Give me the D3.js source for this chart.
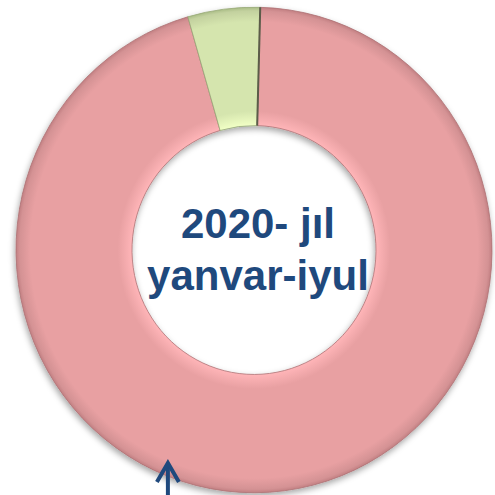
<!DOCTYPE html>
<html>
<head>
<meta charset="utf-8">
<script src="https://cdn.jsdelivr.net/npm/d3@7"></script>
<style>
  html, body { margin: 0; padding: 0; background: #fff; }
  svg { display: block; }
</style>
</head>
<body>
<svg id="chart"></svg>
<script>
// slices, in drawing order (clockwise from just right of 12 o'clock)
const categories = ['A', 'B'];
const values = [95.1, 4.9];
const sliceColors = ['#E8A0A2', '#D5E5AE'];
const rimColors = ['#C27F82', '#A9BC85'];
const titleLines = ['2020- jıl', 'yanvar-iyul'];

const width = 495, height = 495;
const cx = 254, cy = 250;
const outerR = 238, innerR = 122;

const svg = d3.select('#chart')
    .attr('width', width)
    .attr('height', height);

const defs = svg.append('defs');

// soft shadow under the ring
const shadow = defs.append('filter')
    .attr('id', 'shadow')
    .attr('x', '-10%').attr('y', '-10%')
    .attr('width', '120%').attr('height', '120%');
shadow.append('feDropShadow')
    .attr('dx', -1).attr('dy', 3)
    .attr('stdDeviation', 3)
    .attr('flood-color', '#000')
    .attr('flood-opacity', 0.35);

// radial shading per slice: light band inside, darker rim outside
sliceColors.forEach((c, i) => {
  const g = defs.append('radialGradient')
      .attr('id', 'grad' + i)
      .attr('gradientUnits', 'userSpaceOnUse')
      .attr('cx', 0).attr('cy', 0).attr('r', outerR);
  const k = innerR / outerR;
  g.append('stop').attr('offset', k).attr('stop-color', d3.color(c).brighter(0.35));
  g.append('stop').attr('offset', k + 0.06).attr('stop-color', c);
  g.append('stop').attr('offset', 0.94).attr('stop-color', c);
  g.append('stop').attr('offset', 0.985).attr('stop-color', d3.color(c).darker(0.25));
  g.append('stop').attr('offset', 1).attr('stop-color', rimColors[i]);
});

const startA = 1.5 * Math.PI / 180;

const pie = d3.pie()
    .sort(null)
    .value(d => d)
    .startAngle(startA)
    .endAngle(startA + 2 * Math.PI);

const arc = d3.arc()
    .innerRadius(innerR)
    .outerRadius(outerR);

const ring = svg.append('g')
    .attr('transform', `translate(${cx},${cy}) scale(1,1.02)`)
    .attr('filter', 'url(#shadow)');

ring.selectAll('path.slice')
  .data(pie(values))
  .join('path')
    .attr('class', 'slice')
    .attr('d', arc)
    .attr('fill', (d, i) => `url(#grad${i})`)
    .attr('stroke', (d, i) => d3.color(rimColors[i]).darker(0.3))
    .attr('stroke-width', 0.8);

// darker divider line on the right edge of the small slice
const arcs = pie(values);
const edge = arcs[1].endAngle;
ring.append('line')
    .attr('x1', innerR * Math.sin(edge)).attr('y1', -innerR * Math.cos(edge))
    .attr('x2', outerR * Math.sin(edge)).attr('y2', -outerR * Math.cos(edge))
    .attr('stroke', '#5b5b4a')
    .attr('stroke-width', 2);

// centre title
const title = svg.append('text')
    .attr('x', cx + 4)
    .attr('text-anchor', 'middle')
    .attr('font-family', 'Liberation Sans, Arial, sans-serif')
    .attr('font-weight', 'bold')
    .attr('font-size', 42)
    .attr('fill', '#1F497D');

title.selectAll('tspan')
  .data(titleLines)
  .join('tspan')
    .attr('x', cx + 4)
    .attr('y', (d, i) => 238 + i * 52)
    .text(d => d);

// arrow pointing up at the ring from below
const arrowA = 202.5 * Math.PI / 180;
const tipR = 225;
const tipX = cx + tipR * Math.sin(arrowA);
const tipY = cy - tipR * Math.cos(arrowA) * 1.02;
const arrow = svg.append('g')
    .attr('stroke', '#1F497D')
    .attr('stroke-width', 4)
    .attr('fill', 'none');
arrow.append('line')
    .attr('x1', tipX).attr('y1', tipY + 2)
    .attr('x2', tipX).attr('y2', height);
arrow.append('polyline')
    .attr('points', `${tipX - 11},${tipY + 20} ${tipX},${tipY + 1} ${tipX + 11},${tipY + 20}`)
    .attr('stroke-linejoin', 'miter');
</script>
</body>
</html>
